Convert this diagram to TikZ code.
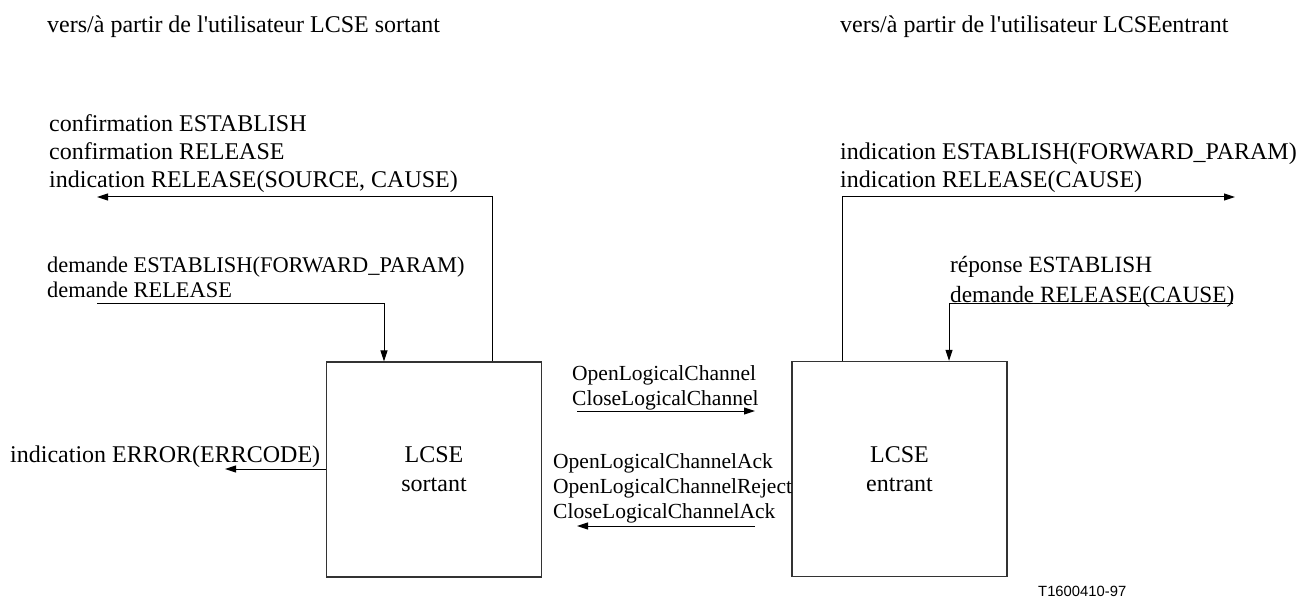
\documentclass[tikz,border=0pt]{standalone}
\usepackage{fontspec}
\setmainfont{Liberation Serif}
\newfontfamily\labelsans{Liberation Sans}
\usetikzlibrary{arrows.meta}

\begin{document}
\begin{tikzpicture}[x=1pt,y=-1pt,
  lcse/.style={draw=black!80,line width=1.3pt,minimum width=215pt,minimum height=215pt,
    align=center,inner sep=0pt,font=\fontsize{24}{29}\selectfont},
  msg/.style={anchor=base west,inner sep=0pt,align=left,font=\fontsize{24}{28}\selectfont},
  sig/.style={line width=1pt,-{Triangle[length=11pt,width=7pt]}}]
\useasboundingbox (0,0) rectangle (1308,601);

% user side headings
\node[msg] (hdsort) at (47,33) {vers/à partir de l\textquotesingle utilisateur LCSE sortant};
\node[msg] (hdentr) at (840,33) {vers/à partir de l\textquotesingle utilisateur LCSEentrant};

% the two entities
\node[lcse] (sortant) at (434,469.5) {LCSE\\sortant};
\node[lcse] (entrant) at (899.5,469) {LCSE\\entrant};

% primitives, outgoing side (base = last line)
\node[msg] (confsort) at (49,188) {confirmation ESTABLISH\\confirmation RELEASE\\indication RELEASE(SOURCE, CAUSE)};
\node[msg,font=\fontsize{22.4}{25.5}\selectfont] (demsort) at (47,298) {demande ESTABLISH(FORWARD\_PARAM)\\demande RELEASE};
\node[msg] (errsort) at (10,462) {indication ERROR(ERRCODE)};

% primitives, incoming side
\node[msg] (indentr) at (840,188) {indication ESTABLISH(FORWARD\_PARAM)\\indication RELEASE(CAUSE)};
\node[msg,font=\fontsize{23.3}{29}\selectfont] (repentr) at (950,302) {réponse ESTABLISH\\demande RELEASE(CAUSE)};

% messages between the entities
\node[msg,font=\fontsize{21.5}{25}\selectfont] (olc) at (572,405) {OpenLogicalChannel\\CloseLogicalChannel};
\node[msg,font=\fontsize{21.5}{25}\selectfont] (olcack) at (553,518) {OpenLogicalChannelAck\\OpenLogicalChannelReject\\CloseLogicalChannelAck};

\node[anchor=base west,inner sep=0pt,font=\labelsans\fontsize{14.8}{16}\selectfont] (fignum) at (1038,596) {T1600410-97};

\coordinate (confend) at (97,197);
\coordinate (demstart) at (97,304);
\coordinate (errend) at (225,469);
\coordinate (olcstart) at (577,411);
\coordinate (olcend) at (755,411);
\coordinate (ackstart) at (755,526);
\coordinate (ackend) at (577,526);
\coordinate (indend) at (1235,197);
\coordinate (repstart) at (1233,304);

\draw[sig] ([xshift=58pt]sortant.north) |- (confend);
\draw[sig] (demstart) -| ([xshift=-50pt]sortant.north);
\draw[sig] (sortant.west |- errend) -- (errend);
\draw[sig] (olcstart) -- (olcend);
\draw[sig] (ackstart) -- (ackend);
\draw[sig] ([xshift=-57.5pt]entrant.north) |- (indend);
\draw[sig] (repstart) -| ([xshift=49.5pt]entrant.north);
\end{tikzpicture}
\end{document}
